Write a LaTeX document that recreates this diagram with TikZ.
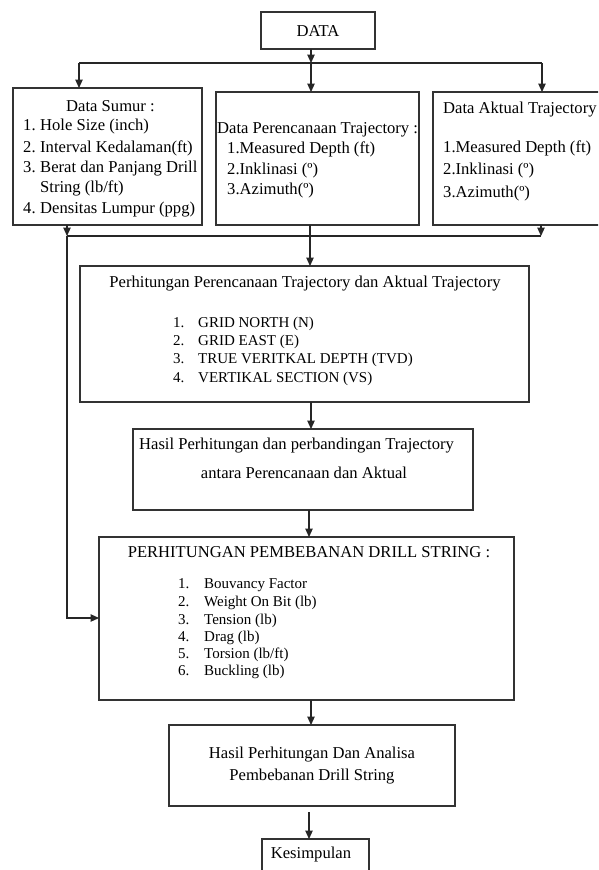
\documentclass[tikz,border=0pt]{standalone}
\usepackage{fontspec}
\setmainfont{Liberation Serif}
\usetikzlibrary{arrows.meta}
\begin{document}
\begin{tikzpicture}[x=1pt,y=-1pt,
  box/.style={draw=black!80,line width=1.2pt,inner sep=0pt,outer sep=0pt,rectangle},
  conn/.style={draw=black!85,line width=1.1pt},
  arr/.style={conn,-{Triangle[length=8.5pt,width=7.5pt]}},
  big/.style={font=\fontsize{16.6}{20}\selectfont,inner sep=0pt},
  small/.style={font=\fontsize{15}{18}\selectfont,inner sep=0pt}]
\useasboundingbox (0,0) rectangle (598,870);
\clip (0,0) rectangle (598,870);
\fill[white] (0,0) rectangle (598,870);

% boxes
\node[box,minimum width=114pt,minimum height=37pt] (data) at (318,30.5) {};
\node[box,minimum width=189pt,minimum height=137pt] (sumur) at (107.5,156.5) {};
\node[box,minimum width=203pt,minimum height=133pt] (plan) at (317.5,158.5) {};
\node[box,minimum width=217pt,minimum height=133pt] (akt) at (541.5,158.5) {};
\node[box,minimum width=449pt,minimum height=136pt] (hitung) at (304.5,334) {};
\node[box,minimum width=340pt,minimum height=81pt] (hasil) at (303,469.5) {};
\node[box,minimum width=415pt,minimum height=163pt] (beban) at (306.5,618.5) {};
\node[box,minimum width=286pt,minimum height=81pt] (hasil2) at (312,765.5) {};
\node[box,minimum width=107pt,minimum height=61pt] (kes) at (315.5,869.5) {};

% texts
\node[big,anchor=base] (tdata) at (318,36) {DATA};

\node[big,anchor=base] (ts0) at (110.5,111) {Data Sumur :};
\node[big,anchor=base west] (ts1n) at (23,130.5) {1.};
\node[big,anchor=base west] (ts1) at (40,130.5) {Hole Size (inch)};
\node[big,anchor=base west] (ts2n) at (23,152.2) {2.};
\node[big,anchor=base west] (ts2) at (40,152.2) {Interval Kedalaman(ft)};
\node[big,anchor=base west] (ts3n) at (23,172.8) {3.};
\node[big,anchor=base west] (ts3) at (40,172.8) {Berat dan Panjang Drill};
\node[big,anchor=base west] (ts3b) at (40,192.8) {String (lb/ft)};
\node[big,anchor=base west] (ts4n) at (23,213.8) {4.};
\node[big,anchor=base west] (ts4) at (40,213.8) {Densitas Lumpur (ppg)};

\node[big,anchor=base west] (tp0) at (217,133.5) {Data Perencanaan Trajectory :};
\node[big,anchor=base west] (tp1) at (227,153.8) {1.Measured Depth (ft)};
\node[big,anchor=base west] (tp2) at (227,174.3) {2.Inklinasi (º)};
\node[big,anchor=base west] (tp3) at (227,194.8) {3.Azimuth(º)};

\node[big,anchor=base west] (ta0) at (443,113.5) {Data Aktual Trajectory};
\node[big,anchor=base west] (ta1) at (443,152.2) {1.Measured Depth (ft)};
\node[big,anchor=base west] (ta2) at (443,174.8) {2.Inklinasi (º)};
\node[big,anchor=base west] (ta3) at (443,197.2) {3.Azimuth(º)};

\node[big,anchor=base] (th0) at (305,287.5) {Perhitungan Perencanaan Trajectory dan Aktual Trajectory};
\node[small,anchor=base west] (th1n) at (173,327) {1.};
\node[small,anchor=base west] (th1) at (198,327) {GRID NORTH (N)};
\node[small,anchor=base west] (th2n) at (173,345.3) {2.};
\node[small,anchor=base west] (th2) at (198,345.3) {GRID EAST (E)};
\node[small,anchor=base west] (th3n) at (173,363.6) {3.};
\node[small,anchor=base west] (th3) at (198,363.6) {TRUE VERITKAL DEPTH (TVD)};
\node[small,anchor=base west] (th4n) at (173,382) {4.};
\node[small,anchor=base west] (th4) at (198,382) {VERTIKAL SECTION (VS)};

\node[big,anchor=base] (tr1) at (296.5,449.5) {Hasil Perhitungan dan perbandingan Trajectory};
\node[big,anchor=base] (tr2) at (304,478.5) {antara Perencanaan dan Aktual};

\node[big,anchor=base] (tb0) at (309,557.5) {PERHITUNGAN PEMBEBANAN DRILL STRING :};
\node[small,anchor=base west] (tb1n) at (178,588) {1.};
\node[small,anchor=base west] (tb1) at (204,588) {Bouvancy Factor};
\node[small,anchor=base west] (tb2n) at (178,606) {2.};
\node[small,anchor=base west] (tb2) at (204,606) {Weight On Bit (lb)};
\node[small,anchor=base west] (tb3n) at (178,624) {3.};
\node[small,anchor=base west] (tb3) at (204,624) {Tension (lb)};
\node[small,anchor=base west] (tb4n) at (178,641) {4.};
\node[small,anchor=base west] (tb4) at (204,641) {Drag (lb)};
\node[small,anchor=base west] (tb5n) at (178,658) {5.};
\node[small,anchor=base west] (tb5) at (204,658) {Torsion (lb/ft)};
\node[small,anchor=base west] (tb6n) at (178,675) {6.};
\node[small,anchor=base west] (tb6) at (204,675) {Buckling (lb)};

\node[big,anchor=base] (tf1) at (312,758.5) {Hasil Perhitungan Dan Analisa};
\node[big,anchor=base] (tf2) at (312,780.5) {Pembebanan Drill String};

\node[big,anchor=base] (tk) at (311,858) {Kesimpulan};

% connectors
\coordinate (j0) at (311,63);
\coordinate (jL) at (79,63);
\coordinate (jR) at (542,63);
\draw[arr] (data.south -| j0) -- (j0);
\draw[conn] (jL) -- (jR);
\draw[arr] (jL) -- (jL |- sumur.north);
\draw[arr] (j0) -- (j0 |- plan.north);
\draw[arr] (jR) -- (jR |- akt.north);

\coordinate (bL) at (67,236);
\coordinate (bR) at (541,236);
\coordinate (bM) at (310,236);
\draw[arr] (bL |- sumur.south) -- (bL);
\draw[arr] (bR |- akt.south) -- (bR);
\draw[conn] (bL) -- (bR);
\draw[arr] (bM |- plan.south) -- (bM |- hitung.north);
\coordinate (cL) at (67,618);
\draw[arr] (bL) -- (cL) -- (cL -| beban.west);

\coordinate (a1) at (311,0);
\coordinate (a2) at (309,0);
\coordinate (k0) at (309,812);
\draw[arr] (a1 |- hitung.south) -- (a1 |- hasil.north);
\draw[arr] (a2 |- hasil.south) -- (a2 |- beban.north);
\draw[arr] (a1 |- beban.south) -- (a1 |- hasil2.north);
\draw[arr] (k0) -- (k0 |- kes.north);
\end{tikzpicture}
\end{document}
